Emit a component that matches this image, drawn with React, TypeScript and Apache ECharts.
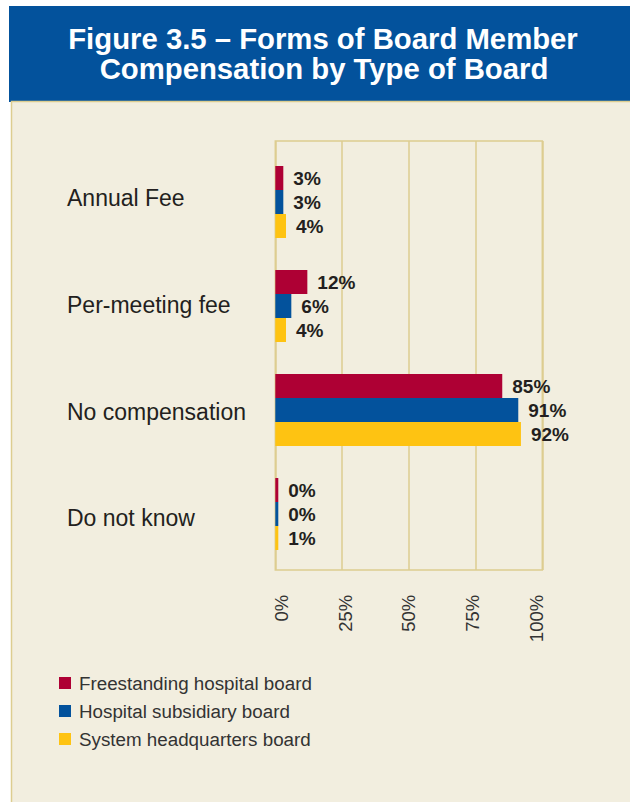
import React, { useEffect, useRef } from "react";
import * as echarts from "echarts";

const categories = ["Annual Fee", "Per-meeting fee", "No compensation", "Do not know"];
const seriesNames = [
  "Freestanding hospital board",
  "Hospital subsidiary board",
  "System headquarters board",
];
const freestanding = [3, 12, 85, 0];
const subsidiary = [3, 6, 91, 0];
const systemHq = [4, 4, 92, 1];
const seriesColors = ["#ae0034", "#03529c", "#fec312"];
const titleLines = ["Figure 3.5 – Forms of Board Member", "Compensation by Type of Board"];

const FONT = "'Liberation Sans', Arial, Helvetica, sans-serif";

export default function App() {
  const ref = useRef<HTMLDivElement>(null);
  useEffect(() => {
    if (!ref.current) return;
    const chart = echarts.init(ref.current, null, { renderer: "svg" });
    const values = [freestanding, subsidiary, systemHq];
    chart.setOption({
      animation: false,
      backgroundColor: "#ffffff",
      textStyle: { fontFamily: FONT },
      graphic: [
        {
          type: "rect",
          z: -10,
          shape: { x: 9, y: 6, width: 625, height: 96 },
          style: { fill: "#03529c" },
        },
        {
          type: "rect",
          z: -10,
          shape: { x: 11.5, y: 101.5, width: 625, height: 710 },
          style: { fill: "#f2eedf", stroke: "#ddcd90", lineWidth: 1.5 },
        },
        {
          type: "text",
          z: 10,
          x: 323,
          y: 38,
          style: {
            text: titleLines[0],
            fill: "#ffffff",
            font: `bold 29.3px ${FONT}`,
            textAlign: "center",
            textVerticalAlign: "middle",
          },
        },
        {
          type: "text",
          z: 10,
          x: 324,
          y: 68.5,
          style: {
            text: titleLines[1],
            fill: "#ffffff",
            font: `bold 29.3px ${FONT}`,
            textAlign: "center",
            textVerticalAlign: "middle",
          },
        },
      ],
      legend: {
        orient: "vertical",
        left: 59,
        top: 673.5,
        padding: 0,
        itemWidth: 12,
        itemHeight: 12,
        itemGap: 9,
        icon: "rect",
        data: seriesNames,
        textStyle: { fontSize: 18.8, color: "#333333", fontFamily: FONT, padding: [0, 0, 0, 3] },
      },
      grid: [
        {
          left: 275.3,
          top: 141,
          width: 267,
          height: 429,
          show: true,
          z: 0,
          borderColor: "#ddcd90",
          borderWidth: 1.5,
          backgroundColor: "transparent",
        },
        { left: 275.3, top: 150, width: 267, height: 416 },
        { left: 281.6, top: 144.6, width: 254.4, height: 427.2 },
      ],
      xAxis: [
        {
          gridIndex: 0,
          type: "value",
          min: 0,
          max: 100,
          interval: 25,
          axisLine: { show: false },
          axisTick: { show: false },
          axisLabel: { show: false },
          splitLine: { show: true, lineStyle: { color: "#ddcd90", width: 1.5 } },
        },
        {
          gridIndex: 1,
          type: "value",
          min: 0,
          max: 100,
          show: false,
        },
        {
          gridIndex: 2,
          type: "value",
          min: 0,
          max: 100,
          interval: 25,
          axisLine: { show: false },
          axisTick: { show: false },
          splitLine: { show: false },
          axisLabel: {
            rotate: 90,
            margin: 23,
            fontSize: 18.5,
            color: "#333333",
            fontFamily: FONT,
            formatter: "{value}%",
          },
        },
      ],
      yAxis: [
        { gridIndex: 0, type: "category", data: categories, show: false },
        { gridIndex: 1, type: "category", data: categories, inverse: true, show: false },
        {
          gridIndex: 2,
          type: "category",
          data: categories,
          inverse: true,
          axisLine: { show: false },
          axisTick: { show: false },
          splitLine: { show: false },
          axisLabel: {
            margin: 214.6,
            align: "left",
            fontSize: 23,
            color: "#231f20",
            fontFamily: FONT,
          },
        },
      ],
      series: seriesNames.map((name, i) => ({
        name,
        type: "bar",
        xAxisIndex: 1,
        yAxisIndex: 1,
        data: values[i],
        barWidth: 24,
        barGap: "0%",
        barMinHeight: 3,
        itemStyle: { color: seriesColors[i] },
        z: 3,
        label: {
          show: true,
          position: "right",
          distance: 10,
          formatter: "{c}%",
          fontSize: 19,
          fontWeight: "bold",
          color: "#231f20",
          fontFamily: FONT,
        },
      })),
    });
    return () => chart.dispose();
  }, []);
  return (
    <div
      ref={ref}
      style={{ position: "absolute", left: 0, top: 0, width: 630, height: 802 }}
    />
  );
}
